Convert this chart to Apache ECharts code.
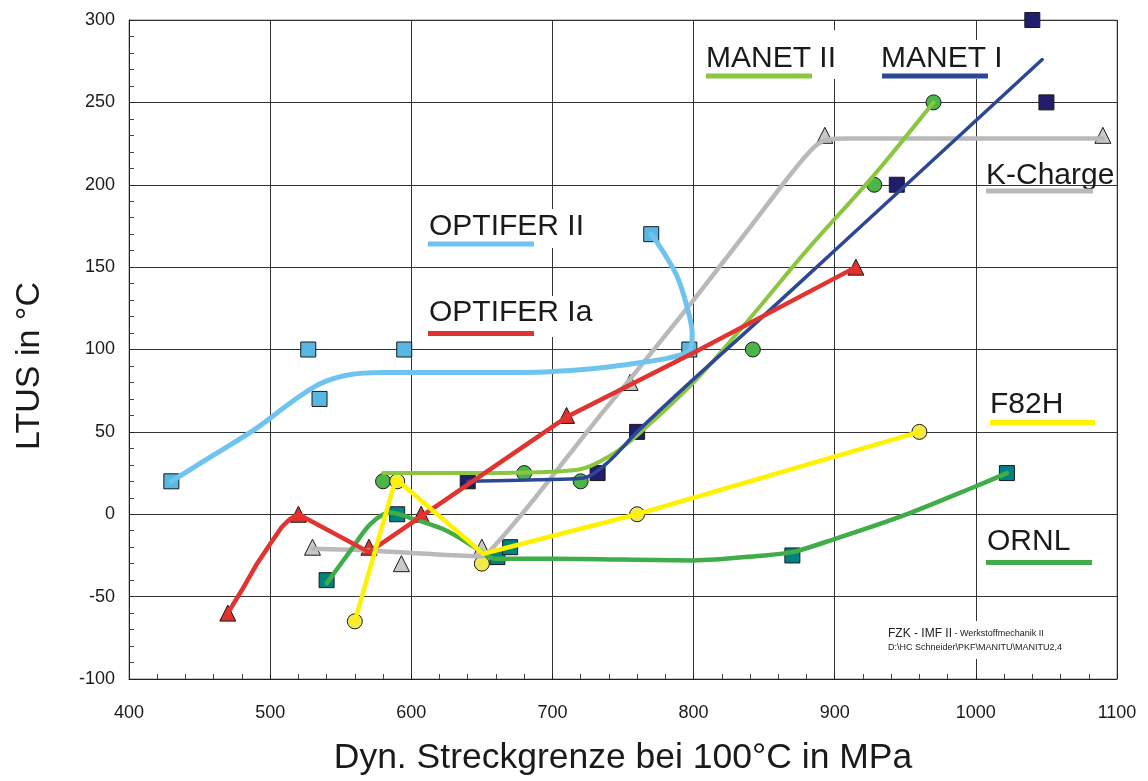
<!DOCTYPE html>
<html>
<head>
<meta charset="utf-8">
<script src="https://cdn.jsdelivr.net/npm/echarts@6/dist/echarts.min.js"></script>
<style>
html,body{margin:0;padding:0;background:#fff;}
#chart{width:1148px;height:781px;}
</style>
</head>
<body>
<div id="chart"></div>
<script>
// ---- axis ranges ----
const xRange = [400, 1100, 100];
const yRange = [-100, 300, 50];

// ---- OPTIFER II (light blue squares) ----
const optiferIIPoints = [[430,20],[527,100],[535,70],[595,100],[797,100],[770,170]];
const optiferIICurve = [[430,20],[460,36],[490,52],[515,68],[535,79],[555,84.5],[580,86],[620,86],[665,86],[698,86.5],[745,90],[797,99],[799,110],[795,127],[788,145],[778,160],[770,170]];

// ---- OPTIFER Ia (red triangles) ----
const optiferIaPoints = [[470,-60],[520,0],[570,-20],[607,0],[710,60],[915,150]];
const optiferIaCurve = [[470,-60],[480,-46],[490,-31],[500,-18],[508,-8],[514,-3],[520,0],[570,-23],[640,18],[710,59],[800,98],[915,150]];

// ---- K-Charge (grey triangles) ----
const kChargePoints = [[530,-20],[593,-30],[650,-20],[755,80],[893,230],[1090,230]];
const kChargeCurve = [[530,-21],[570,-22],[610,-24],[650,-25.5],[656,-22],[684,6],[731,57],[755,82],[800,130],[839,173],[863,200],[878,216],[887,224],[895,227.5],[910,228],[1000,228],[1090,228]];

// ---- MANET II (green circles) ----
const manetIIPoints = [[580,20],[680,25],[720,20],[842,100],[928,200],[970,250]];
const manetIICurve = [[580,25],[650,25],[718,27],[740,35],[760,48],[800,80],[840,119],[880,160],[928,206],[970,250]];

// ---- MANET I (navy squares) ----
const manetIPoints = [[640,20],[732,25],[760,50],[944,200],[1050,250],[1040,300]];
const manetICurve = [[640,20],[690,21],[722,22],[740,32],[760,50],[800,82],[844,116],[910,168],[1047,276]];

// ---- F82H (yellow circles) ----
const f82hPoints = [[560,-65],[590,20],[650,-30],[760,0],[960,50]];
const f82hCurve = [[560,-65],[589,21.5],[651,-24],[760,0],[960,50]];

// ---- ORNL (teal squares) ----
const ornlPoints = [[540,-40],[590,0],[661,-26],[670,-20],[870,-25],[1022,25]];
const ornlCurve = [[540,-42],[557,-22],[571,-6],[585,1],[602,-3],[625,-10],[647,-21],[659,-27],[700,-27],[800,-28],[850,-25],[870,-23],[893,-17],[948,-1],[1000,17],[1022,25]];

// ---- texts ----
const xTitle = 'Dyn. Streckgrenze bei 100°C in MPa';
const yTitle = 'LTUS in °C';
const noteLine1a = 'FZK - IMF II';
const noteLine1b = ' - Werkstoffmechanik II';
const noteLine2 = 'D:\\HC Schneider\\PKF\\MANITU\\MANITU2,4';

const FONT = '"Liberation Sans", Arial, Helvetica, sans-serif';

function lineSeries(name, data, color, width, smooth) {
  return {
    name: name, type: 'line', data: data, z: 3,
    symbol: 'none', smooth: smooth,
    clip: false,
    lineStyle: { color: color, width: width, cap: 'round', join: 'round' },
    silent: true
  };
}
function pointSeries(name, data, symbol, color, size) {
  return {
    name: name + ' pts', type: 'scatter', data: data, z: 2,
    symbol: symbol, symbolSize: size, clip: false,
    itemStyle: { color: color, borderColor: '#1a1a1a', borderWidth: 1, opacity: 1 },
    silent: true
  };
}

const labels = [
  { text: 'OPTIFER II', x: 429, y: 227, ux: 428, uy: 241.5, uw: 106, color: '#6ec4ee' },
  { text: 'OPTIFER Ia', x: 429, y: 313, ux: 428, uy: 331, uw: 106, color: '#e1332f' },
  { text: 'MANET II', x: 706, y: 58.5, ux: 706, uy: 73.5, uw: 106, color: '#8cc640' },
  { text: 'MANET I', x: 881, y: 58.5, ux: 882, uy: 73.5, uw: 106, color: '#2d4797' },
  { text: 'K-Charge', x: 986, y: 176, ux: 986, uy: 188.5, uw: 107, color: '#b9b9bc' },
  { text: 'F82H', x: 990, y: 405, ux: 990, uy: 420, uw: 105, color: '#fff200' },
  { text: 'ORNL', x: 987, y: 542, ux: 986, uy: 560, uw: 106, color: '#41ad49' }
];
const boxes = [
  [424, 209, 168, 39], [424, 296, 176, 41], [702, 30, 140, 49], [877, 40, 129, 39], [885, 621, 183, 38]
];

const graphics = [];
boxes.forEach(b => graphics.push({ type: 'rect', z: 1, silent: true, shape: { x: b[0], y: b[1], width: b[2], height: b[3] }, style: { fill: '#ffffff' } }));
labels.forEach(l => {
  graphics.push({ type: 'text', z: 5, silent: true, x: l.x, y: l.y,
    style: { text: l.text, font: '30px ' + FONT, fill: '#1a1a1a', verticalAlign: 'middle' } });
  graphics.push({ type: 'rect', z: 5, silent: true, shape: { x: l.ux, y: l.uy, width: l.uw, height: 5 }, style: { fill: l.color } });
});
graphics.push({ type: 'text', z: 5, silent: true, x: 888, y: 634,
  style: { text: '{a|' + noteLine1a + '}{b|' + noteLine1b + '}', verticalAlign: 'middle',
    rich: { a: { fontSize: 12, fontFamily: FONT, fill: '#222', color: '#222' }, b: { fontSize: 9, fontFamily: FONT, fill: '#222', color: '#222' } } } });
graphics.push({ type: 'text', z: 5, silent: true, x: 888, y: 648,
  style: { text: noteLine2, font: '9px ' + FONT, fill: '#222', verticalAlign: 'middle' } });
graphics.push({ type: 'text', z: 5, silent: true, x: 30, y: 366, rotation: Math.PI / 2,
  style: { text: yTitle, font: '34px ' + FONT, fill: '#1a1a1a', align: 'center', verticalAlign: 'middle' } });

const chart = echarts.init(document.getElementById('chart'), null, { renderer: 'canvas' });
chart.setOption({
  animation: false,
  backgroundColor: '#ffffff',
  grid: { left: 129, right: 31, top: 20, bottom: 98, show: true, borderColor: '#8a8a8a', borderWidth: 1, backgroundColor: 'transparent' },
  xAxis: {
    type: 'value', min: xRange[0], max: xRange[1], interval: xRange[2],
    name: xTitle, nameLocation: 'middle', nameGap: 61,
    nameTextStyle: { fontSize: 35.5, fontFamily: FONT, color: '#1a1a1a' },
    axisLine: { show: true, onZero: false, lineStyle: { color: '#222', width: 1 } },
    axisTick: { show: true, inside: true, length: 5, lineStyle: { color: '#222' } },
    minorTick: { show: true, splitNumber: 5, length: 5, lineStyle: { color: '#444' } },
    axisLabel: { fontSize: 18, fontFamily: FONT, color: '#1a1a1a', margin: 25, formatter: v => String(v) },
    splitLine: { show: true, lineStyle: { color: '#333', width: 1 } }
  },
  yAxis: {
    type: 'value', min: yRange[0], max: yRange[1], interval: yRange[2],
    axisLine: { show: true, onZero: false, lineStyle: { color: '#222', width: 1 } },
    axisTick: { show: true, inside: true, length: 5, lineStyle: { color: '#222' } },
    minorTick: { show: true, splitNumber: 5, length: 5, lineStyle: { color: '#444' } },
    axisLabel: { fontSize: 18, fontFamily: FONT, color: '#1a1a1a', margin: 14, formatter: v => String(v) },
    splitLine: { show: true, lineStyle: { color: '#333', width: 1 } }
  },
  graphic: graphics,
  series: [
    pointSeries('OPTIFER II', optiferIIPoints, 'rect', '#58b7e3', 15),
    pointSeries('OPTIFER Ia', optiferIaPoints, 'triangle', '#e1302b', 16),
    pointSeries('K-Charge', kChargePoints, 'triangle', '#c9c9cb', 16),
    pointSeries('MANET II', manetIIPoints, 'circle', '#4bb547', 15),
    pointSeries('MANET I', manetIPoints, 'rect', '#231e6b', 15),
    pointSeries('F82H', f82hPoints, 'circle', '#f2ea4d', 15),
    pointSeries('ORNL', ornlPoints, 'rect', '#008281', 15),
    lineSeries('K-Charge', kChargeCurve, '#b9b9bc', 4.5, 0.3),
    lineSeries('OPTIFER II', optiferIICurve, '#6ec4ee', 5, 0.3),
    lineSeries('ORNL', ornlCurve, '#41ad49', 4.5, 0.3),
    lineSeries('MANET II', manetIICurve, '#8cc640', 4, 0.3),
    lineSeries('MANET I', manetICurve, '#2d4797', 3.5, 0.3),
    lineSeries('OPTIFER Ia', optiferIaCurve, '#e1332f', 4.5, false),
    lineSeries('F82H', f82hCurve, '#fff200', 4.5, false)
  ]
});
</script>
</body>
</html>
